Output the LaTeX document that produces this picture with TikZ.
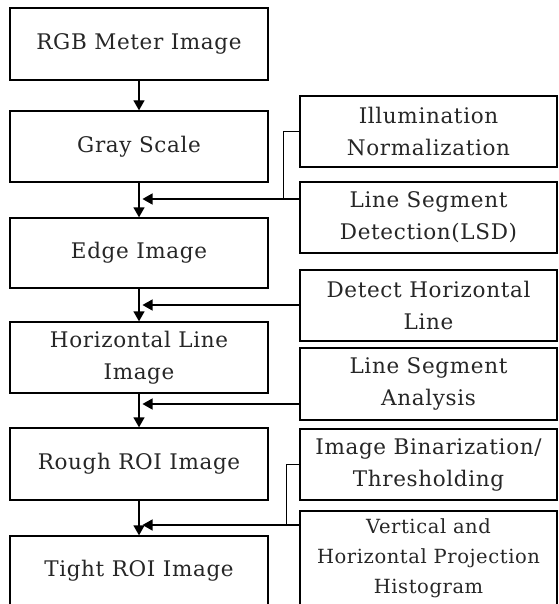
\documentclass[tikz,border=0pt]{standalone}
\usepackage{fontspec}
\setmainfont{DejaVu Serif}[LetterSpace=3]
\usetikzlibrary{arrows.meta}
\begin{document}
\begin{tikzpicture}[x=1pt,y=-1pt,
  box/.style={draw=black,line width=1.3pt,rectangle,inner sep=0pt,align=center,
    text=black!85,font=\fontsize{21.5}{32}\selectfont},
  lbox/.style={box,minimum width=258pt},
  rbox/.style={box,minimum width=257pt},
  conn/.style={line width=1.3pt,draw=black},
  arr/.style={conn,-{Triangle[length=10pt,width=11pt]}}]
\useasboundingbox (0,0) rectangle (558,604);
\clip (0,0) rectangle (558,604);
% main column
\node[lbox,minimum height=72pt] (rgb)   at (139,44)    {RGB Meter Image};
\node[lbox,minimum height=71pt] (gray)  at (139,146.5) {Gray Scale};
\node[lbox,minimum height=70pt] (edge)  at (139,253)   {Edge Image};
\node[lbox,minimum height=71pt] (hli)   at (139,357.5) {Horizontal Line\\Image};
\node[lbox,minimum height=72pt] (rough) at (139,464)   {Rough ROI Image};
\node[lbox,minimum height=69pt] (tight) at (139,570.5) {Tight ROI Image};
% side column
\node[rbox,minimum height=71pt] (illum) at (428.5,131.5) {Illumination\\Normalization};
\node[rbox,minimum height=71pt] (lsd)   at (428.5,217.5) {Line Segment\\Detection(LSD)};
\node[rbox,minimum height=71pt] (dhl)   at (428.5,305.5) {Detect Horizontal\\Line};
\node[rbox,minimum height=72pt] (lsa)   at (428.5,384)   {Line Segment\\Analysis};
\node[rbox,minimum height=71pt] (ibt)   at (428.5,464.5) {Image Binarization/\\Thresholding};
\node[rbox,minimum height=94pt,font=\fontsize{19.5}{30}\selectfont] (vhp) at (428.5,558)
  {Vertical and\\Horizontal Projection\\Histogram};
% joints on the main line
\coordinate (j1) at (142.5,199);
\coordinate (j2) at (142.5,305);
\coordinate (j3) at (142.5,404);
\coordinate (j4) at (142.5,525);
% main arrows
\draw[arr] (rgb) -- (gray);
\draw[arr] (gray) -- (edge);
\draw[arr] (edge) -- (hli);
\draw[arr] (hli) -- (rough);
\draw[arr] (rough) -- (tight);
% side arrows
\draw[arr] (lsd.west |- j1) -- (j1);
\draw[conn] (illum.west) -| ([xshift=-16pt]lsd.west |- j1);
\draw[arr] (dhl.west |- j2) -- (j2);
\draw[arr] (lsa.west |- j3) -- (j3);
\draw[arr] (vhp.west |- j4) -- (j4);
\draw[conn] (ibt.west) -| ([xshift=-13pt]vhp.west |- j4);
\end{tikzpicture}
\end{document}
